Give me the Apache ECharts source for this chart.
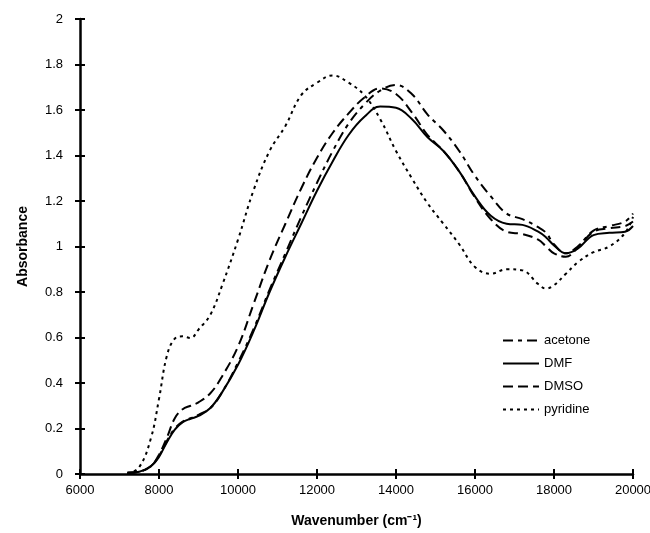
<!DOCTYPE html>
<html>
<head>
<meta charset="utf-8">
<script src="https://cdn.jsdelivr.net/npm/echarts@6/dist/echarts.min.js"></script>
<style>
html,body{margin:0;padding:0;background:#fff;}
#main{width:650px;height:533px;}
</style>
</head>
<body>
<div id="main"></div>
<script>
// wavenumber (cm-1)
var wavenumber=[7200,7500,7800,8000,8200,8400,8600,8800,9000,9300,9600,10000,10400,10800,11200,11600,12000,12400,12800,13200,13600,14000,14400,14800,15200,15600,16000,16400,16800,17200,17600,17800,18000,18300,18600,19000,19400,19800,20000];
var acetone=[0.005,0.01,0.035,0.08,0.145,0.2,0.23,0.245,0.26,0.29,0.36,0.49,0.64,0.81,0.97,1.13,1.28,1.42,1.54,1.625,1.685,1.71,1.67,1.58,1.51,1.42,1.31,1.22,1.145,1.12,1.085,1.06,1.01,0.97,1.0,1.07,1.09,1.11,1.145];
var dmf=[0.005,0.01,0.035,0.075,0.14,0.195,0.228,0.243,0.255,0.29,0.36,0.48,0.63,0.8,0.955,1.1,1.245,1.375,1.49,1.57,1.615,1.61,1.56,1.48,1.42,1.33,1.22,1.135,1.1,1.095,1.065,1.04,1.005,0.97,0.99,1.05,1.06,1.065,1.09];
var dmso=[0.005,0.01,0.035,0.085,0.16,0.245,0.285,0.3,0.315,0.355,0.43,0.56,0.75,0.94,1.1,1.255,1.39,1.5,1.585,1.655,1.695,1.67,1.59,1.49,1.42,1.33,1.215,1.12,1.065,1.055,1.03,1.0,0.97,0.955,0.995,1.065,1.08,1.09,1.11];
var pyridine=[0,0.03,0.16,0.33,0.52,0.595,0.605,0.598,0.635,0.7,0.83,1.03,1.25,1.42,1.53,1.665,1.72,1.752,1.72,1.665,1.56,1.42,1.3,1.19,1.1,1.01,0.91,0.88,0.9,0.895,0.835,0.815,0.83,0.88,0.93,0.975,1.0,1.06,1.13];

var names=['acetone','DMF','DMSO','pyridine'];
var values=[acetone,dmf,dmso,pyridine];
var dashes=[[10,5,4,5],'solid',[10,5],[3,4]];

function pairs(ys){
    var out=[];
    for(var i=0;i<wavenumber.length;i++){
        out.push([wavenumber[i],ys[i]]);
    }
    return out;
}

var series=[];
for(var k=0;k<names.length;k++){
    series.push({
        name:names[k],
        type:'line',
        data:pairs(values[k]),
        smooth:0.4,
        symbol:'none',
        silent:true,
        lineStyle:{color:'#000',width:2,type:dashes[k]},
        itemStyle:{color:'#000'}
    });
}

var font='"Liberation Sans", Arial, sans-serif';
var chart=echarts.init(document.getElementById('main'));
var option={
    animation:false,
    backgroundColor:'#fff',
    grid:{left:80,right:17,top:19,bottom:59,outerBoundsMode:'none'},
    legend:{
        orient:'vertical',
        left:502,
        top:334,
        padding:0,
        itemWidth:36,
        itemHeight:10,
        itemGap:10,
        data:names,
        itemStyle:{opacity:0},
        textStyle:{color:'#000',fontSize:13,fontFamily:font}
    },
    xAxis:[{
        type:'value',
        min:6000,
        max:20000,
        interval:2000,
        name:'Wavenumber (cm⁻¹)',
        nameLocation:'middle',
        nameGap:40,
        nameTextStyle:{color:'#000',fontSize:14,fontWeight:'bold',fontFamily:font},
        axisLine:{lineStyle:{color:'#000',width:2.5}},
        axisTick:{length:5,lineStyle:{color:'#000',width:2}},
        axisLabel:{color:'#000',fontSize:13,fontFamily:font,margin:10,formatter:function(v){return String(v);}},
        splitLine:{show:false}
    },{
        // inner half of the crossing ticks
        type:'value',
        min:6000,
        max:20000,
        interval:2000,
        position:'bottom',
        axisLine:{show:false},
        axisTick:{inside:true,length:5,lineStyle:{color:'#000',width:2}},
        axisLabel:{show:false},
        splitLine:{show:false}
    }],
    yAxis:[{
        type:'value',
        min:0,
        max:2,
        interval:0.2,
        name:'Absorbance',
        nameLocation:'middle',
        nameGap:50,
        nameTextStyle:{color:'#000',fontSize:14,fontWeight:'bold',fontFamily:font},
        axisLine:{lineStyle:{color:'#000',width:2.5}},
        axisTick:{length:5,lineStyle:{color:'#000',width:2}},
        axisLabel:{color:'#000',fontSize:13,fontFamily:font,margin:17},
        splitLine:{show:false}
    },{
        type:'value',
        min:0,
        max:2,
        interval:0.2,
        position:'left',
        axisLine:{show:false},
        axisTick:{inside:true,length:5,lineStyle:{color:'#000',width:2}},
        axisLabel:{show:false},
        splitLine:{show:false}
    }],
    series:series
};
chart.setOption(option);
</script>
</body>
</html>
